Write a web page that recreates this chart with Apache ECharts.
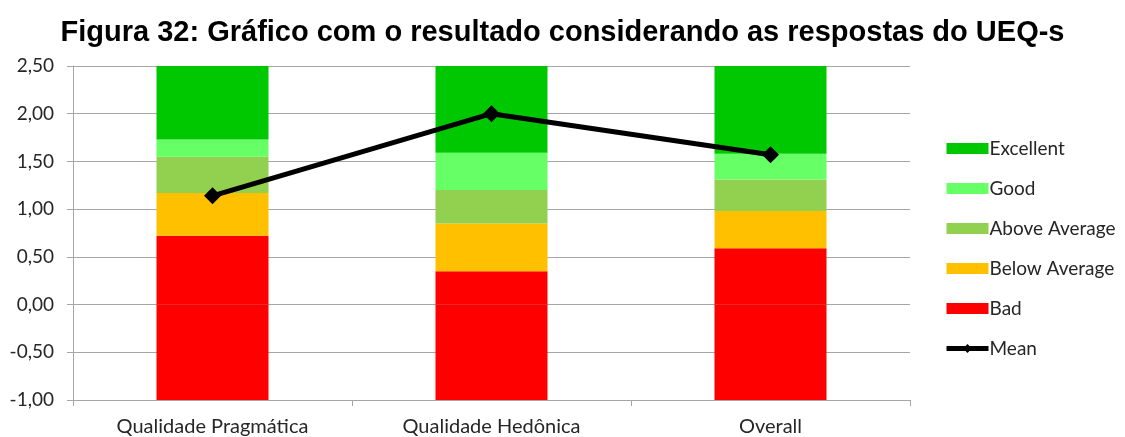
<!DOCTYPE html>
<html>
<head>
<meta charset="utf-8">
<script src="https://cdn.jsdelivr.net/npm/echarts@6/dist/echarts.min.js"></script>
<style>
  html, body { margin: 0; padding: 0; background: #fff; }
  #chart { width: 1125px; height: 437px; }
</style>
</head>
<body>
<div id="chart"></div>
<script>
const categories = ["Qualidade Pragmática", "Qualidade Hedônica", "Overall"];
// benchmark bands (bar segments stacked from the axis bottom)
const axisBottom = [-1, -1, -1];
const bad = [0.72, 0.35, 0.59];
const belowAverage = [0.45, 0.50, 0.39];
const aboveAverage = [0.38, 0.35, 0.33];
const good = [0.18, 0.39, 0.27];
const excellent = [0.77, 0.91, 0.92];
const mean = [1.14, 2.0, 1.57];

const font = "Lato, 'Open Sans', sans-serif";
const colors = {
  Excellent: "#00C800",
  Good: "#66FF66",
  "Above Average": "#92D050",
  "Below Average": "#FFC000",
  Bad: "#FF0000",
};

const chart = echarts.init(document.getElementById("chart"), null, { renderer: "canvas" });

function band(name, data) {
  return {
    name: name,
    type: "bar",
    stack: "bench",
    barWidth: 112,
    data: data,
    itemStyle: { color: colors[name] },
    emphasis: { disabled: true },
  };
}

chart.setOption({
  animation: false,
  backgroundColor: "#fff",
  title: {
    text: "Figura 32: Gráfico com o resultado considerando as respostas do UEQ-s",
    left: "center",
    top: 13,
    textStyle: {
      fontFamily: "'Liberation Sans', Arial, sans-serif",
      fontWeight: "bold",
      fontSize: 29,
      color: "#000",
    },
  },
  legend: {
    orient: "vertical",
    left: 939,
    top: 134,
    itemWidth: 42,
    itemHeight: 11,
    itemGap: 21,
    textStyle: { fontFamily: font, fontSize: 19, color: "#262626", padding: [0, 0, 0, -4] },
    data: [
      { name: "Excellent", icon: "rect" },
      { name: "Good", icon: "rect" },
      { name: "Above Average", icon: "rect" },
      { name: "Below Average", icon: "rect" },
      { name: "Bad", icon: "rect" },
      { name: "Mean", lineStyle: { width: 5, color: "#000" } },
    ],
  },
  grid: { left: 73, right: 215, top: 66, bottom: 37 },
  xAxis: {
    type: "category",
    data: categories,
    axisLine: { onZero: false, lineStyle: { color: "#A6A6A6" } },
    axisTick: { show: true, length: 6, lineStyle: { color: "#A6A6A6" } },
    axisLabel: { fontFamily: font, fontSize: 20, color: "#262626", margin: 17 },
  },
  yAxis: {
    type: "value",
    min: -1,
    max: 2.5,
    interval: 0.5,
    axisLine: { show: true, lineStyle: { color: "#A6A6A6" } },
    axisTick: { show: true, length: 6, lineStyle: { color: "#A6A6A6" } },
    splitLine: { lineStyle: { color: "#A6A6A6", width: 1 } },
    axisLabel: {
      fontFamily: font,
      fontSize: 19,
      color: "#262626",
      margin: 19,
      formatter: (v) => v.toFixed(2).replace(".", ","),
    },
  },
  series: [
    band("Bad", axisBottom),
    band("Bad", bad),
    band("Below Average", belowAverage),
    band("Above Average", aboveAverage),
    band("Good", good),
    band("Excellent", excellent),
    {
      name: "Mean",
      type: "line",
      data: mean,
      symbol: "diamond",
      symbolSize: 17,
      z: 10,
      lineStyle: { color: "#000", width: 5 },
      itemStyle: { color: "#000" },
      emphasis: { disabled: true },
    },
  ],
});
</script>
</body>
</html>
